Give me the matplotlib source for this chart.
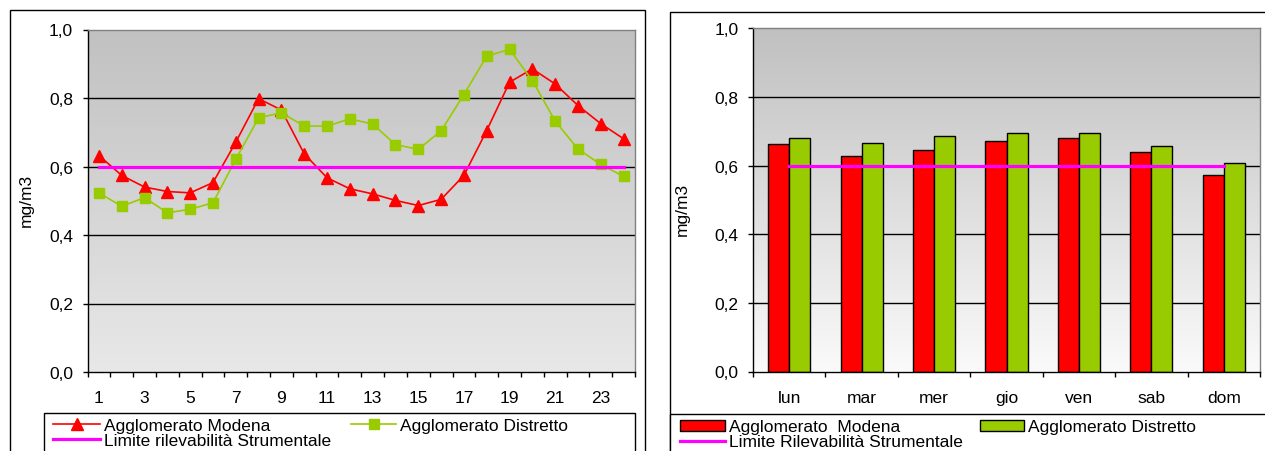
import numpy as np
import matplotlib
matplotlib.use('Agg')
import matplotlib.pyplot as plt
from matplotlib.patches import Rectangle, Patch
from matplotlib.lines import Line2D

plt.rcParams['font.family'] = ['Liberation Sans', 'DejaVu Sans']
plt.rcParams['font.size'] = 12.5

# ------------------------------------------------------------
# dati
# ------------------------------------------------------------
ORE = list(range(1, 25))
MODENA_ORA = [0.632, 0.574, 0.540, 0.527, 0.523, 0.553, 0.671, 0.798,
              0.765, 0.637, 0.567, 0.535, 0.520, 0.501, 0.486, 0.504,
              0.574, 0.705, 0.846, 0.885, 0.841, 0.778, 0.725, 0.681]
DISTRETTO_ORA = [0.523, 0.484, 0.509, 0.465, 0.475, 0.494, 0.621, 0.742,
                 0.757, 0.718, 0.718, 0.739, 0.724, 0.664, 0.650, 0.704,
                 0.810, 0.922, 0.942, 0.851, 0.733, 0.651, 0.606, 0.571]

GIORNI = ['lun', 'mar', 'mer', 'gio', 'ven', 'sab', 'dom']
MODENA_GIORNO = [0.662, 0.627, 0.646, 0.671, 0.680, 0.641, 0.574]
DISTRETTO_GIORNO = [0.679, 0.665, 0.685, 0.694, 0.694, 0.656, 0.608]

LIMITE = 0.6
Y_TICKS = [0.0, 0.2, 0.4, 0.6, 0.8, 1.0]
Y_LABELS = ['0,0', '0,2', '0,4', '0,6', '0,8', '1,0']
GRIGLIA = [0.2, 0.4, 0.6, 0.8]

ROSSO = '#ff0000'
VERDE = '#99cc00'
MAGENTA = '#ff00ff'

W, H = 1265, 452


def box(x0, y0, x1, y1):
    """pixel (origine in alto a sinistra) -> frazione figura"""
    return [x0 / W, 1 - y1 / H, (x1 - x0) / W, (y1 - y0) / H]


def sfondo(ax, top, bottom):
    # gradiente grigio tipo Excel
    g = np.linspace(top, bottom, 256)[:, None, None] / 255.0
    img = np.repeat(g, 3, axis=2)
    ax.imshow(img, extent=[0, 1, 0, 1], transform=ax.transAxes,
              aspect='auto', zorder=0, interpolation='bilinear')


def stile_assi(ax):
    for s in ['top', 'right']:
        ax.spines[s].set_color('#808080')
    for s in ['left', 'bottom']:
        ax.spines[s].set_color('black')
    for s in ax.spines.values():
        s.set_linewidth(1.0)
        s.set_zorder(5)
    ax.set_ylim(0, 1)
    ax.set_yticks(Y_TICKS)
    ax.set_yticklabels(Y_LABELS)
    ax.tick_params(axis='y', direction='out', length=3.3, width=1, pad=7)
    ax.tick_params(axis='x', which='major', length=0, pad=13)
    ax.tick_params(axis='x', which='minor', direction='out', length=3.6, width=1)
    for v in GRIGLIA:
        ax.axhline(v, color='black', lw=1, zorder=1)
    ax.set_ylabel('mg/m3')


fig = plt.figure(figsize=(W / 100, H / 100), dpi=100)

# cornici dei due grafici
fig.add_artist(Rectangle((10 / W, 1 - 470 / H), 635 / W, 459 / H, transform=fig.transFigure,
                         fill=False, ec='black', lw=1, clip_on=False))
fig.add_artist(Rectangle((670 / W, 1 - 470 / H), 620 / W, 457 / H, transform=fig.transFigure,
                         fill=False, ec='black', lw=1, clip_on=False))
# riquadri legenda
fig.add_artist(Rectangle((44 / W, 1 - 470 / H), 591 / W, 56 / H, transform=fig.transFigure,
                         fc='white', ec='black', lw=1, clip_on=False))
fig.add_artist(Rectangle((670 / W, 1 - 470 / H), 620 / W, 55 / H, transform=fig.transFigure,
                         fc='white', ec='black', lw=1, clip_on=False))

# ------------------------------------------------------------
# grafico orario
# ------------------------------------------------------------
ax1 = fig.add_axes(box(87.5, 30.5, 635, 373))
sfondo(ax1, 193, 232)
stile_assi(ax1)
l_mod, = ax1.plot(ORE, MODENA_ORA, color=ROSSO, marker='^', ms=9, lw=1.2, zorder=3)
l_dis, = ax1.plot(ORE, DISTRETTO_ORA, color=VERDE, marker='s', ms=6.5, lw=1.2, zorder=3)
l_lim, = ax1.plot(ORE, [LIMITE] * len(ORE), color=MAGENTA, lw=2.3, zorder=4)
ax1.set_xlim(0.5, len(ORE) + 0.5)
ax1.set_xticks(ORE[::2])
ax1.set_xticklabels([str(h) for h in ORE[::2]])
ax1.set_xticks(np.arange(0.5, len(ORE) + 1), minor=True)
ax1.yaxis.set_label_coords(-0.099, 0.505)

# ------------------------------------------------------------
# grafico settimanale
# ------------------------------------------------------------
ax2 = fig.add_axes(box(753, 29.3, 1260, 372.5))
sfondo(ax2, 192, 250)
stile_assi(ax2)
x = np.arange(len(GIORNI))
bw = 0.29
ax2.bar(x - bw / 2, MODENA_GIORNO, bw, color=ROSSO, edgecolor='black', lw=1, zorder=3)
ax2.bar(x + bw / 2, DISTRETTO_GIORNO, bw, color=VERDE, edgecolor='black', lw=1, zorder=3)
ax2.plot(x, [LIMITE] * len(x), color=MAGENTA, lw=2.3, zorder=4)
ax2.set_xlim(-0.5, len(GIORNI) - 0.5)
ax2.set_xticks(x)
ax2.set_xticklabels(GIORNI)
ax2.set_xticks(np.arange(-0.5, len(GIORNI)), minor=True)
ax2.yaxis.set_label_coords(-0.124, 0.474)

# ------------------------------------------------------------
# legende
# ------------------------------------------------------------
fs = 12.5
em = fs * 100 / 72
kw = dict(loc='upper left', frameon=False, borderpad=0, borderaxespad=0,
          labelspacing=0, handletextpad=4 / em, fontsize=fs)

fig.legend([l_mod, l_lim], ['Agglomerato Modena', 'Limite rilevabilità Strumentale'],
           bbox_to_anchor=(53 / W, 1 - 419 / H), handlelength=47 / em, **kw)
fig.legend([l_dis], ['Agglomerato Distretto'],
           bbox_to_anchor=(351 / W, 1 - 419 / H), handlelength=45 / em, **kw)

p_mod = Patch(fc=ROSSO, ec='black', lw=1)
p_dis = Patch(fc=VERDE, ec='black', lw=1)
p_lim = Line2D([], [], color=MAGENTA, lw=2.3)
fig.legend([p_mod, p_lim], ['Agglomerato  Modena', 'Limite Rilevabilità Strumentale'],
           bbox_to_anchor=(680 / W, 1 - 420.5 / H), handlelength=45 / em,
           handleheight=10 / em, **kw)
fig.legend([p_dis], ['Agglomerato Distretto'],
           bbox_to_anchor=(980 / W, 1 - 420.5 / H), handlelength=44 / em,
           handleheight=10 / em, **kw)

fig.savefig('out.png', dpi=100)
